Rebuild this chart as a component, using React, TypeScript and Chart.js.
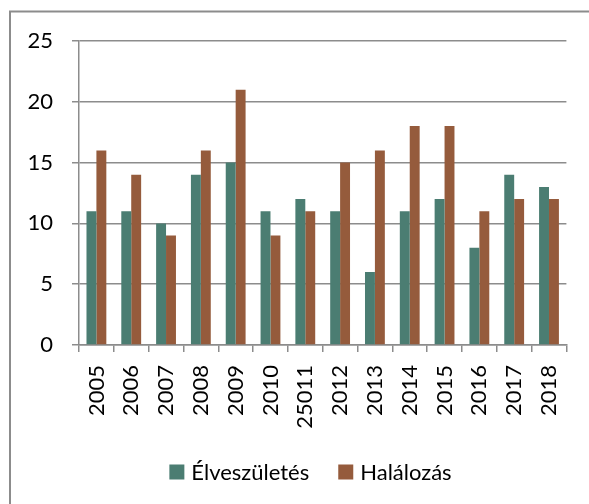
import React, { useEffect, useRef } from "react";
import { Chart, registerables } from "chart.js";

Chart.register(...registerables);

const categories = ["2005", "2006", "2007", "2008", "2009", "2010", "25011", "2012", "2013", "2014", "2015", "2016", "2017", "2018"];
const elveszuletes = [11, 11, 10, 14, 15, 11, 12, 11, 6, 11, 12, 8, 14, 13];
const halalozas = [16, 14, 9, 16, 21, 9, 11, 15, 16, 18, 18, 11, 12, 12];
const seriesNames = ["Élveszületés", "Halálozás"];

const W = 589;
const H = 504;
const FONT = 22;
const GRID = "#8c8c8c";

const frame = {
  id: "frame",
  beforeDraw(chart: any) {
    const ctx = chart.ctx;
    ctx.save();
    ctx.fillStyle = "#ffffff";
    ctx.fillRect(0, 0, W, H);
    ctx.strokeStyle = GRID;
    ctx.lineWidth = 2;
    ctx.beginPath();
    ctx.moveTo(10, H);
    ctx.lineTo(10, 11.5);
    ctx.lineTo(W, 11.5);
    ctx.stroke();
    ctx.restore();
  },
};

const customLegend = {
  id: "customLegend",
  afterDraw(chart: any) {
    const ctx = chart.ctx;
    const box = 15;
    const gap = 7;
    const itemGap = 29;
    const cx = 310.5;
    const cy = 472;
    ctx.save();
    ctx.font = `${FONT}px Lato`;
    const items = chart.data.datasets.map((ds: any) => ({ label: ds.label, color: ds.backgroundColor }));
    const widths = items.map((it: any) => box + gap + ctx.measureText(it.label).width);
    const total = widths.reduce((a: number, b: number) => a + b, 0) + itemGap * (items.length - 1);
    let x = cx - total / 2;
    items.forEach((it: any, i: number) => {
      ctx.fillStyle = it.color;
      ctx.fillRect(x, cy - box / 2, box, box);
      ctx.fillStyle = "#000";
      ctx.textBaseline = "alphabetic";
      ctx.textAlign = "left";
      ctx.fillText(it.label, x + box + gap, cy + 8);
      x += widths[i] + itemGap;
    });
    ctx.restore();
  },
};

export default function App() {
  const ref = useRef<HTMLCanvasElement>(null);
  useEffect(() => {
    if (!ref.current) return;
    const chart = new Chart(ref.current, {
      type: "bar",
      data: {
        labels: categories,
        datasets: [
          { label: seriesNames[0], data: elveszuletes, backgroundColor: "#4b7d72", categoryPercentage: 0.57, barPercentage: 1 },
          { label: seriesNames[1], data: halalozas, backgroundColor: "#955b3c", categoryPercentage: 0.57, barPercentage: 1 },
        ],
      },
      options: {
        responsive: false,
        animation: false,
        layout: { padding: { left: 0, right: 17, top: 41, bottom: 59 } },
        font: { family: "Lato", size: FONT },
        plugins: {
          tooltip: { enabled: false },
          legend: { display: false },
        },
        scales: {
          x: {
            afterFit: (s: any) => { s.height = 100; },
            grid: { drawOnChartArea: false, drawTicks: true, tickLength: 7, color: GRID, lineWidth: 1.5, offset: true },
            border: { display: true, color: GRID, width: 1.5 },
            ticks: { color: "#000", font: { family: "Lato", size: FONT }, minRotation: 90, maxRotation: 90, padding: 13, autoSkip: false },
          },
          y: {
            min: 0,
            max: 25,
            afterFit: (s: any) => { s.width = 79; },
            grid: { color: GRID, lineWidth: 1.5, tickLength: 7, drawTicks: true },
            border: { display: true, color: GRID, width: 1.5 },
            ticks: { stepSize: 5, color: "#000", font: { family: "Lato", size: FONT }, padding: 19 },
          },
        },
      },
      plugins: [frame, customLegend],
    });
    return () => chart.destroy();
  }, []);
  return (
    <div style={{ position: "absolute", left: 0, top: 0, width: W, height: H }}>
      <canvas ref={ref} width={W} height={H} style={{ width: W, height: H, display: "block" }} />
    </div>
  );
}
